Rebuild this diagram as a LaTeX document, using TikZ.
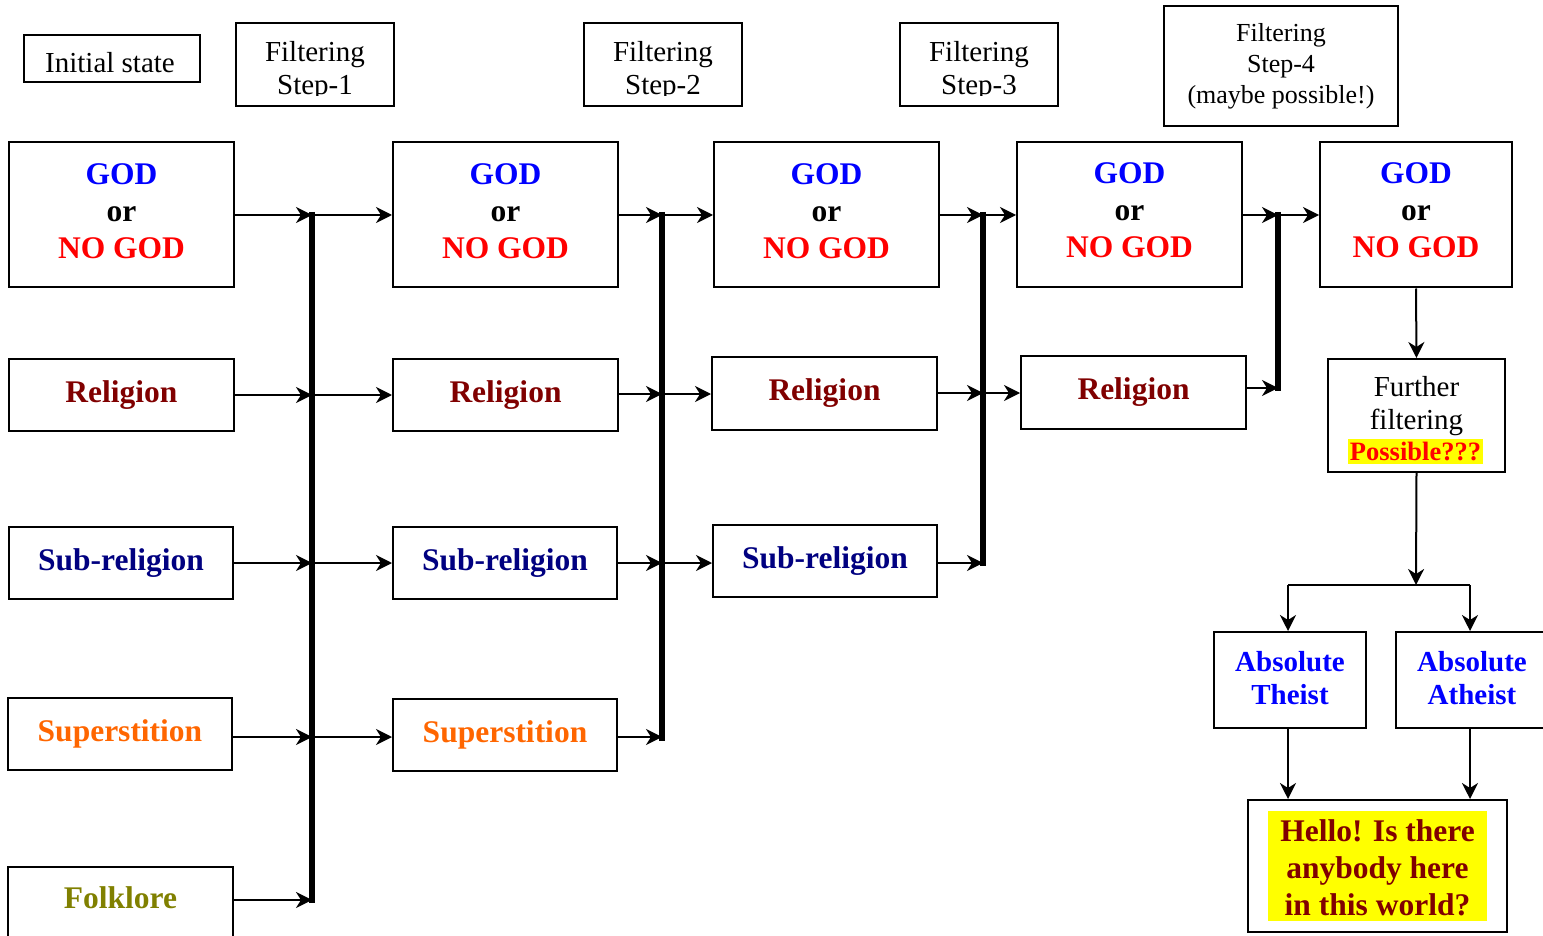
\documentclass[tikz,border=0pt]{standalone}
\usepackage{fontspec}
\setmainfont{Liberation Serif}
\usetikzlibrary{arrows.meta}
\definecolor{cblue}{RGB}{0,0,255}
\definecolor{cred}{RGB}{255,0,0}
\definecolor{cdred}{RGB}{128,0,0}
\definecolor{cnavy}{RGB}{0,0,128}
\definecolor{corange}{RGB}{255,102,0}
\definecolor{colive}{RGB}{128,128,0}
\definecolor{cyel}{RGB}{255,255,0}
\tikzset{
  box/.style={draw, line width=2pt, inner sep=0pt, align=center},
  txt/.style={inner sep=0pt, align=center},
  hfont/.style={font=\fontsize{29}{33}\selectfont},
  big/.style={box, font=\fontsize{31.5}{37}\selectfont\bfseries},
  bigtxt/.style={txt, font=\fontsize{31.5}{37}\selectfont\bfseries},
  arr/.style={line width=2pt, -{Stealth[length=16pt,width=16pt,inset=5pt]}},
  ln/.style={line width=2pt},
  bar/.style={line width=6pt},
}
\newcommand{\godtext}{\textcolor{cblue}{GOD}\\or\\\textcolor{cred}{NO GOD}}
\begin{document}
\begin{tikzpicture}[x=1pt,y=-1pt]
\useasboundingbox (0,0) rectangle (1543,936);
\clip (0,0) rectangle (1543,936);
% headers
\node[box, minimum width=176, minimum height=47] (h0) at (112,58.5) {};
\node[txt, hfont] (h0t) at (110,63) {Initial state};
\node[box, minimum width=158, minimum height=83] (h1) at (315,64.5) {};
\node[box, minimum width=158, minimum height=83] (h2) at (663,64.5) {};
\node[box, minimum width=158, minimum height=83] (h3) at (979,64.5) {};
\begin{scope}
\clip (230,0) rectangle (1070,96);
\node[txt, hfont] (h1t) at (315,71) {Filtering\\Step-1};
\node[txt, hfont] (h2t) at (663,71) {Filtering\\Step-2};
\node[txt, hfont] (h3t) at (979,71) {Filtering\\Step-3};
\end{scope}
\node[box, font=\fontsize{26}{31}\selectfont, minimum width=234, minimum height=120] (h4) at (1281,66) {Filtering\\Step-4\\(maybe possible!)};
% GOD boxes
\node[box, minimum width=225, minimum height=145] (g1) at (121.5,215) {};
\node[box, minimum width=225, minimum height=145] (g2) at (505.5,215) {};
\node[box, minimum width=225, minimum height=145] (g3) at (826.5,215) {};
\node[box, minimum width=225, minimum height=145] (g4) at (1129.5,215) {};
\node[box, minimum width=192, minimum height=145] (g5) at (1416,215) {};
\node[bigtxt] (g1t) at (121.5,211.5) {\godtext};
\node[bigtxt] (g2t) at (505.5,211.5) {\godtext};
\node[bigtxt] (g3t) at (826.5,211.5) {\godtext};
\node[bigtxt] (g4t) at (1129.5,210.5) {\godtext};
\node[bigtxt] (g5t) at (1416,210.5) {\godtext};
% Religion
\node[big, text=cdred, minimum width=225, minimum height=72] (r1) at (121.5,395) {Religion};
\node[big, text=cdred, minimum width=225, minimum height=72] (r2) at (505.5,395) {Religion};
\node[big, text=cdred, minimum width=225, minimum height=73] (r3) at (824.5,393.5) {Religion};
\node[big, text=cdred, minimum width=225, minimum height=73] (r4) at (1133.5,392.5) {Religion};
% Sub-religion
\node[big, text=cnavy, minimum width=224, minimum height=72] (s1) at (121,563) {Sub-religion};
\node[big, text=cnavy, minimum width=224, minimum height=72] (s2) at (505,563) {Sub-religion};
\node[big, text=cnavy, minimum width=224, minimum height=72] (s3) at (825,561) {Sub-religion};
% Superstition
\node[big, text=corange, minimum width=224, minimum height=72] (p1) at (120,734) {Superstition};
\node[big, text=corange, minimum width=224, minimum height=72] (p2) at (505,735) {Superstition};
% Folklore
\node[box, minimum width=225, minimum height=100] (f1) at (120.5,917) {};
\node[bigtxt, text=colive] (f1t) at (120.5,898) {Folklore};
% bars
\coordinate (b1t) at (312,212); \coordinate (b1b) at (312,903);
\coordinate (b2t) at (662,212); \coordinate (b2b) at (662,741);
\coordinate (b3t) at (983,212); \coordinate (b3b) at (983,566);
\coordinate (b4t) at (1278,212); \coordinate (b4b) at (1278,391);
\draw[bar] (b1t) -- (b1b);
\draw[bar] (b2t) -- (b2b);
\draw[bar] (b3t) -- (b3b);
\draw[bar] (b4t) -- (b4b);
% junctions
\coordinate (j1g) at (312,215); \coordinate (j1r) at (312,395); \coordinate (j1s) at (312,563);
\coordinate (j1p) at (312,737); \coordinate (j1f) at (312,900);
\coordinate (j2g) at (662,215); \coordinate (j2r) at (662,394); \coordinate (j2s) at (662,563);
\coordinate (j2p) at (662,737);
\coordinate (j3g) at (983,215); \coordinate (j3r) at (983,393); \coordinate (j3s) at (983,563);
\coordinate (j4g) at (1278,215); \coordinate (j4r) at (1278,388);
% step 1
\draw[arr] (g1.east) -- (j1g); \draw[arr] (j1g) -- (g2.west);
\draw[arr] (r1.east) -- (j1r); \draw[arr] (j1r) -- (r2.west);
\draw[arr] (s1.east) -- (j1s); \draw[arr] (j1s) -- (s2.west);
\draw[arr] (p1.east |- j1p) -- (j1p); \draw[arr] (j1p) -- (p2.west |- j1p);
\draw[arr] (f1.east |- j1f) -- (j1f);
% step 2
\draw[arr] (g2.east) -- (j2g); \draw[arr] (j2g) -- (g3.west);
\draw[arr] (r2.east |- j2r) -- (j2r); \draw[arr] (j2r) -- (r3.west |- j2r);
\draw[arr] (s2.east) -- (j2s); \draw[arr] (j2s) -- (s3.west |- j2s);
\draw[arr] (p2.east |- j2p) -- (j2p);
% step 3
\draw[arr] (g3.east |- j3g) -- (j3g); \draw[arr] (j3g) -- (g4.west |- j3g);
\draw[arr] (r3.east |- j3r) -- (j3r); \draw[arr] (j3r) -- (r4.west |- j3r);
\draw[arr] (s3.east |- j3s) -- (j3s);
% step 4
\draw[arr] (g4.east |- j4g) -- (j4g); \draw[arr] (j4g) -- (g5.west |- j4g);
\draw[arr] (r4.east |- j4r) -- (j4r);
% further filtering
\node[box, minimum width=177, minimum height=113] (ff) at (1416.5,415.5) {};
\node[txt, hfont] (fft) at (1416.5,406.5) {Further\\filtering};
\node[fill=cyel, text=cred, font=\fontsize{26.5}{30}\selectfont\bfseries, inner sep=0pt, minimum width=135, minimum height=25] (pos) at (1415.5,451) {Possible???};
\draw[arr] (g5.south) -- (ff.north);
\coordinate (split) at (1416,585);
\draw[arr] (ff.south) -- (split);
% absolute boxes
\node[box, minimum width=152, minimum height=96] (th) at (1290,680) {};
\node[box, minimum width=152, minimum height=96] (at) at (1472,680) {};
\node[txt, text=cblue, font=\fontsize{29}{33}\selectfont\bfseries] (tht) at (1290,678) {Absolute\\Theist};
\node[txt, text=cblue, font=\fontsize{29}{33}\selectfont\bfseries] (att) at (1472,678) {Absolute\\Atheist};
\coordinate (sl) at (1288,585); \coordinate (sr) at (1470,585);
\draw[ln] (sl) -- (sr);
\draw[arr] (sl) -- (sl |- th.north);
\draw[arr] (sr) -- (sr |- at.north);
% hello box
\node[box, minimum width=259, minimum height=132] (hb) at (1377.5,866) {};
\node[fill=cyel, minimum width=219, minimum height=110, inner sep=0pt] (hello) at (1377.5,866) {};
\node[txt, text=cdred, font=\fontsize{31.5}{37}\selectfont\bfseries] (hellot) at (1377.5,868) {Hello! Is there\\anybody here\\in this world?};
\draw[arr] (th.south -| sl) -- (sl |- hb.north);
\draw[arr] (at.south -| sr) -- (sr |- hb.north);
\end{tikzpicture}
\end{document}
